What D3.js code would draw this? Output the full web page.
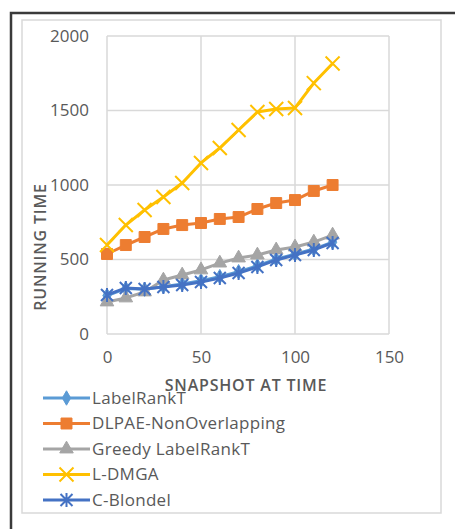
<!DOCTYPE html>
<html>
<head>
<meta charset="utf-8">
<script src="https://cdn.jsdelivr.net/npm/d3@7"></script>
<style>
  body { margin: 0; background: #fff; }
  svg text { font-family: "Open Sans", sans-serif; fill: #595959; }
</style>
</head>
<body>
<div id="chart"></div>
<script>
// snapshot times
const snapshots = [0, 10, 20, 30, 40, 50, 60, 70, 80, 90, 100, 110, 120];

const labelRankT = [258, 305, 300, 318, 335, 358, 385, 418, 458, 502, 536, 570, 616];
const dlpae = [537, 597, 651, 705, 731, 745, 772, 785, 839, 879, 899, 960, 1000];
const greedy = [215, 242, 282, 362, 396, 430, 476, 510, 530, 564, 584, 617, 664];
const ldmga = [597, 731, 832, 919, 1013, 1148, 1248, 1369, 1490, 1510, 1517, 1684, 1815];
const cBlondel = [262, 309, 302, 315, 329, 349, 376, 409, 450, 497, 530, 564, 611];

const seriesNames = ["LabelRankT", "DLPAE-NonOverlapping", "Greedy LabelRankT", "L-DMGA", "C-Blondel"];
const seriesColors = ["#5b9bd5", "#ed7d31", "#a5a5a5", "#ffc000", "#4472c4"];
const seriesMarkers = ["diamond", "square", "triangle", "x", "star"];

const xTicks = [0, 50, 100, 150];
const yTicks = [0, 500, 1000, 1500, 2000];

const allSeries = [labelRankT, dlpae, greedy, ldmga, cBlondel];

const W = 455, H = 529;
const svg = d3.select("#chart").append("svg")
    .attr("width", W)
    .attr("height", H);

// outer frame
svg.append("path")
    .attr("d", `M11,${H} V13 H${W}`)
    .attr("fill", "none")
    .attr("stroke", "#3a3a3a")
    .attr("stroke-width", 2.5);
svg.append("rect")
    .attr("x", 22).attr("y", 20)
    .attr("width", 419).attr("height", 493)
    .attr("fill", "#fff")
    .attr("stroke", "#d9d9d9")
    .attr("stroke-width", 1.5);

const x = d3.scaleLinear().domain([0, 150]).range([107, 389]);
const y = d3.scaleLinear().domain([0, 2000]).range([334, 36]);

// gridlines
svg.append("g").selectAll("line.h")
    .data(yTicks)
    .enter().append("line")
    .attr("x1", x(0)).attr("x2", x(150))
    .attr("y1", d => y(d)).attr("y2", d => y(d))
    .attr("stroke", "#d9d9d9").attr("stroke-width", 1.5);
svg.append("g").selectAll("line.v")
    .data(xTicks)
    .enter().append("line")
    .attr("y1", y(0)).attr("y2", y(2000))
    .attr("x1", d => x(d)).attr("x2", d => x(d))
    .attr("stroke", "#d9d9d9").attr("stroke-width", 1.5);

// axes (labels only, like Excel)
const yAxis = svg.append("g")
    .attr("transform", `translate(${x(0) - 18},0)`)
    .call(d3.axisLeft(y).tickValues(yTicks).tickFormat(d3.format("d")).tickSize(0).tickPadding(0));
yAxis.select(".domain").remove();
yAxis.selectAll("text").style("font-size", "17px").attr("fill", "#595959");

const xAxis = svg.append("g")
    .attr("transform", `translate(0,${y(0) + 17})`)
    .call(d3.axisBottom(x).tickValues(xTicks).tickFormat(d3.format("d")).tickSize(0).tickPadding(0));
xAxis.select(".domain").remove();
xAxis.selectAll("text").style("font-size", "17px").attr("fill", "#595959");

// axis titles
svg.append("text")
    .attr("transform", `translate(46,247) rotate(-90)`)
    .attr("text-anchor", "middle")
    .style("font-size", "16px")
    .style("font-weight", 600)
    .style("letter-spacing", "0.8px")
    .text("RUNNING TIME");
svg.append("text")
    .attr("x", 246).attr("y", 391)
    .attr("text-anchor", "middle")
    .style("font-size", "16px")
    .style("font-weight", 600)
    .style("letter-spacing", "0.8px")
    .text("SNAPSHOT AT TIME");

function markerPath(type) {
    switch (type) {
        case "diamond": return d3.symbol().type(d3.symbolDiamond).size(60)();
        case "square": return d3.symbol().type(d3.symbolSquare).size(120)();
        case "triangle": return d3.symbol().type(d3.symbolTriangle).size(80)();
        case "x": return "M-7,-7L7,7M-7,7L7,-7";
        case "star": return "M-6,-6L6,6M-6,6L6,-6M0,-7L0,7";
    }
}
function isStroke(type) { return type === "x" || type === "star"; }

const line = d3.line()
    .x((d, i) => x(snapshots[i]))
    .y(d => y(d));

allSeries.forEach((vals, k) => {
    const g = svg.append("g");
    g.append("path")
        .datum(vals)
        .attr("d", line)
        .attr("fill", "none")
        .attr("stroke", seriesColors[k])
        .attr("stroke-width", 3)
        .attr("stroke-linejoin", "round");
    g.selectAll("path.m")
        .data(vals)
        .enter().append("path")
        .attr("class", "m")
        .attr("transform", (d, i) => `translate(${x(snapshots[i])},${y(d)})`)
        .attr("d", markerPath(seriesMarkers[k]))
        .attr("fill", isStroke(seriesMarkers[k]) ? "none" : seriesColors[k])
        .attr("stroke", seriesColors[k])
        .attr("stroke-width", isStroke(seriesMarkers[k]) ? 2 : 1);
});

// legend
const legend = svg.append("g");
seriesNames.forEach((name, k) => {
    const ly = 398 + k * 25.5;
    legend.append("line")
        .attr("x1", 43).attr("x2", 90)
        .attr("y1", ly).attr("y2", ly)
        .attr("stroke", seriesColors[k])
        .attr("stroke-width", 3);
    legend.append("path")
        .attr("transform", `translate(66.5,${ly})`)
        .attr("d", markerPath(seriesMarkers[k]))
        .attr("fill", isStroke(seriesMarkers[k]) ? "none" : seriesColors[k])
        .attr("stroke", seriesColors[k])
        .attr("stroke-width", isStroke(seriesMarkers[k]) ? 2 : 1);
    legend.append("text")
        .attr("x", 92).attr("y", ly)
        .attr("dy", "0.35em")
        .style("font-size", "17px")
        .style("letter-spacing", "0.3px")
        .text(name);
});
</script>
</body>
</html>
